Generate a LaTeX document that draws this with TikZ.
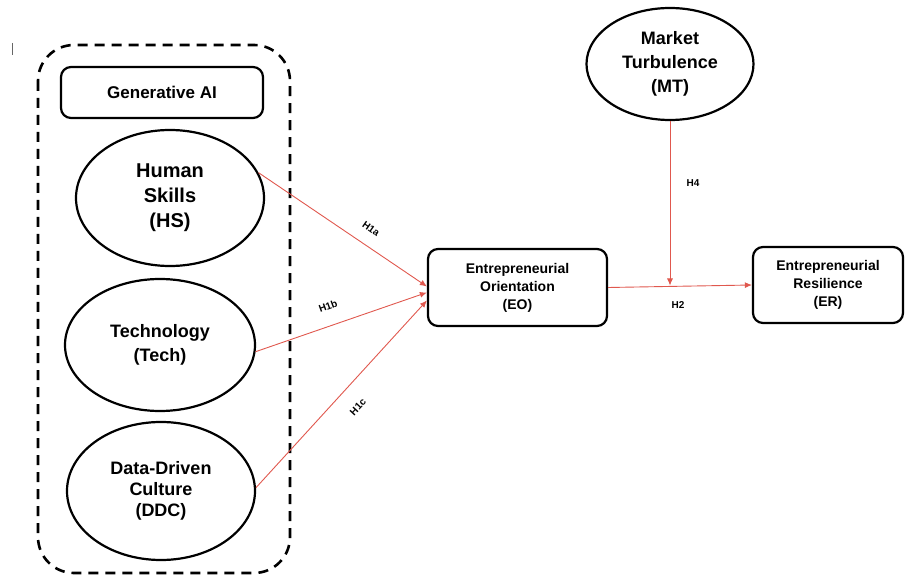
\documentclass[tikz,border=0pt]{standalone}
\usepackage{fontspec}
\setmainfont{Liberation Sans}
\usetikzlibrary{shapes.geometric,arrows.meta}
\definecolor{hypred}{RGB}{224,88,78}
\tikzset{
  construct/.style={ellipse, draw, line width=2.2pt, inner sep=0pt, align=center, font=\bfseries},
  factorbox/.style={rectangle, rounded corners=10pt, draw, line width=2.2pt, inner sep=0pt, align=center, font=\bfseries},
  hyp/.style={draw=hypred, line width=0.9pt, -{Latex[length=7pt,width=6pt]}},
  hyplabel/.style={font=\fontsize{10}{12}\selectfont\bfseries, inner sep=1pt}
}
\begin{document}
\begin{tikzpicture}[x=1pt, y=-1pt]
			%%%%% START %%%%%
			\useasboundingbox (0,0) rectangle (905,577);
			
			\draw[black!60, line width=0.6pt] (12,43) -- (12,55);
			\draw[line width=2.6pt, dash pattern=on 10pt off 7pt, rounded corners=36pt] (38,45) rectangle (290,573);
			
			\node[factorbox, minimum width=202pt, minimum height=51pt, font=\fontsize{17}{20}\selectfont\bfseries] (genai) at (162,92.5) {Generative AI};
			
			\node[construct, minimum width=188pt, minimum height=136pt, font=\fontsize{20}{25}\selectfont\bfseries] (hs) at (170,198) {Human\\Skills\\(HS)};
			\node[construct, minimum width=190pt, minimum height=132pt, font=\fontsize{18}{24}\selectfont\bfseries] (tech) at (160,345) {Technology\\(Tech)};
			\node[construct, minimum width=188pt, minimum height=138pt, font=\fontsize{18}{21}\selectfont\bfseries] (ddc) at (161,491) {Data-Driven\\Culture\\(DDC)};
			
			\node[construct, minimum width=167pt, minimum height=112pt, font=\fontsize{18}{24}\selectfont\bfseries] (mt) at (670,64) {Market\\Turbulence\\(MT)};
			
			\node[factorbox, minimum width=179pt, minimum height=77pt, font=\fontsize{14}{18}\selectfont\bfseries] (eo) at (517.5,287.5) {Entrepreneurial\\Orientation\\(EO)};
			\node[factorbox, minimum width=150pt, minimum height=76pt, font=\fontsize{14}{18}\selectfont\bfseries] (er) at (828,285) {Entrepreneurial\\Resilience\\(ER)};
			
			\draw[hyp] (hs.16) -- ([yshift=1pt]eo.west);
			\draw[hyp] (tech.-4) -- ([yshift=-5pt]eo.west);
			\draw[hyp] (ddc.2) -- ([yshift=-13pt]eo.west);
			
			\coordinate (mod) at (670,285.5);
			\draw[hyp] (eo.east) -- (er.west);
			\draw[hyp] (mt.south) -- (mod);
			
			\node[hyplabel, rotate=-35] (lh1a) at (371,229) {H1a};
			\node[hyplabel, rotate=20] (lh1b) at (328,306) {H1b};
			\node[hyplabel, rotate=47] (lh1c) at (358,407) {H1c};
			\node[hyplabel] (lh4) at (693,183) {H4};
			\node[hyplabel] (lh2) at (678,305) {H2};
			%%%%% END %%%%%
\end{tikzpicture}
\end{document}
